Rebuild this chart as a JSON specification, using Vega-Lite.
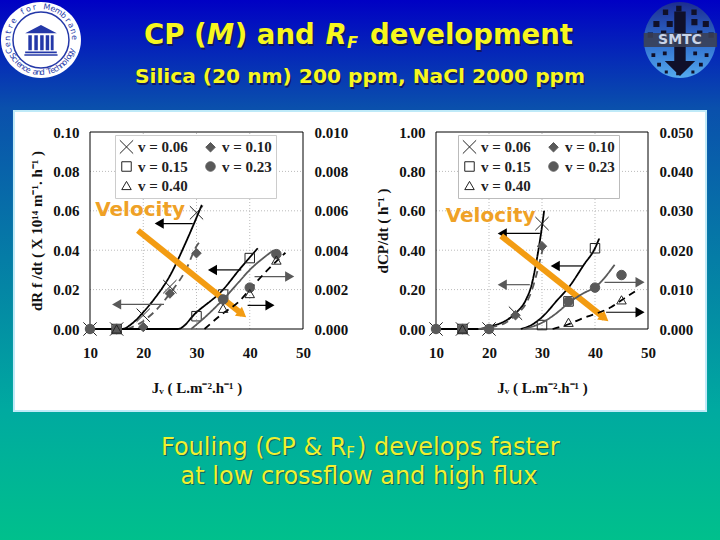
{
  "$schema": "https://vega.github.io/schema/vega-lite/v6.json",
  "width": 720,
  "height": 540,
  "autosize": {"type": "fit", "contains": "padding"},
  "padding": 0,
  "background": "#0a50a8",
  "config": {
    "view": {"stroke": null},
    "axis": {"labelFont": "Liberation Serif", "titleFont": "Liberation Serif", "labelFontWeight": "bold", "titleFontWeight": "bold", "labelFontSize": 15, "titleFontSize": 15, "labelColor": "#111", "titleColor": "#111", "domain": false, "ticks": false, "grid": false, "labelPadding": 11, "labelFlush": false},
    "legend": {"labelFont": "Liberation Serif", "labelFontWeight": "bold", "labelFontSize": 15, "labelColor": "#222"}
  },
  "datasets": {
    "slide": [{"slide": 1}],
    "ring": [
      {"ch": "C", "i": 0}, {"ch": "e", "i": 1}, {"ch": "n", "i": 2}, {"ch": "t", "i": 3}, {"ch": "r", "i": 4}, {"ch": "e", "i": 5}, {"ch": "f", "i": 7}, {"ch": "o", "i": 8}, {"ch": "r", "i": 9}, {"ch": "M", "i": 11}, {"ch": "e", "i": 12}, {"ch": "m", "i": 13}, {"ch": "b", "i": 14}, {"ch": "r", "i": 15}, {"ch": "a", "i": 16}, {"ch": "n", "i": 17}, {"ch": "e", "i": 18},
      {"ch": "S", "i": 19}, {"ch": "c", "i": 20}, {"ch": "i", "i": 21}, {"ch": "e", "i": 22}, {"ch": "n", "i": 23}, {"ch": "c", "i": 24}, {"ch": "e", "i": 25}, {"ch": "a", "i": 27}, {"ch": "n", "i": 28}, {"ch": "d", "i": 29}, {"ch": "T", "i": 31}, {"ch": "e", "i": 32}, {"ch": "c", "i": 33}, {"ch": "h", "i": 34}, {"ch": "n", "i": 35}, {"ch": "o", "i": 36}, {"ch": "l", "i": 37}, {"ch": "o", "i": 38}, {"ch": "g", "i": 39}, {"ch": "y", "i": 40}
    ],
    "gridA": [
      {"x": 20, "x2": 20, "y": 0, "y2": 0.1}, {"x": 30, "x2": 30, "y": 0, "y2": 0.1}, {"x": 40, "x2": 40, "y": 0, "y2": 0.1},
      {"x": 10, "x2": 50, "y": 0.02, "y2": 0.02}, {"x": 10, "x2": 50, "y": 0.04, "y2": 0.04}, {"x": 10, "x2": 50, "y": 0.06, "y2": 0.06}, {"x": 10, "x2": 50, "y": 0.08, "y2": 0.08}
    ],
    "frameA": [{"x": 10, "x2": 50, "y": 0, "y2": 0.1}],
    "gridB": [
      {"x": 20, "x2": 20, "y": 0, "y2": 1}, {"x": 30, "x2": 30, "y": 0, "y2": 1}, {"x": 40, "x2": 40, "y": 0, "y2": 1},
      {"x": 10, "x2": 50, "y": 0.2, "y2": 0.2}, {"x": 10, "x2": 50, "y": 0.4, "y2": 0.4}, {"x": 10, "x2": 50, "y": 0.6, "y2": 0.6}, {"x": 10, "x2": 50, "y": 0.8, "y2": 0.8}
    ],
    "frameB": [{"x": 10, "x2": 50, "y": 0, "y2": 1}],
    "pointsA": [
      {"v": "v = 0.06", "x": 10, "y": 0}, {"v": "v = 0.06", "x": 15, "y": 0}, {"v": "v = 0.06", "x": 20, "y": 0.007}, {"v": "v = 0.06", "x": 25, "y": 0.0215}, {"v": "v = 0.06", "x": 30, "y": 0.059},
      {"v": "v = 0.10", "x": 10, "y": 0}, {"v": "v = 0.10", "x": 15, "y": 0}, {"v": "v = 0.10", "x": 20, "y": 0.001}, {"v": "v = 0.10", "x": 25, "y": 0.018}, {"v": "v = 0.10", "x": 30, "y": 0.0385},
      {"v": "v = 0.15", "x": 15, "y": 0}, {"v": "v = 0.15", "x": 30, "y": 0.0065}, {"v": "v = 0.15", "x": 35, "y": 0.0175}, {"v": "v = 0.15", "x": 40, "y": 0.036}
    ],
    "pointsA2": [
      {"v": "v = 0.23", "x": 10, "y": 0}, {"v": "v = 0.23", "x": 15, "y": 0}, {"v": "v = 0.23", "x": 35, "y": 0.0015}, {"v": "v = 0.23", "x": 40, "y": 0.0021}, {"v": "v = 0.23", "x": 45, "y": 0.0038},
      {"v": "v = 0.40", "x": 15, "y": 0}, {"v": "v = 0.40", "x": 35, "y": 0.00105}, {"v": "v = 0.40", "x": 40, "y": 0.0018}, {"v": "v = 0.40", "x": 45, "y": 0.0035}
    ],
    "linesA": [
      {"v": "v = 0.06", "x": 10, "y": 0}, {"v": "v = 0.06", "x": 16, "y": 0}, {"v": "v = 0.06", "x": 18, "y": 0.003}, {"v": "v = 0.06", "x": 20, "y": 0.0085}, {"v": "v = 0.06", "x": 22, "y": 0.015}, {"v": "v = 0.06", "x": 25, "y": 0.027}, {"v": "v = 0.06", "x": 28, "y": 0.044}, {"v": "v = 0.06", "x": 31, "y": 0.063},
      {"v": "v = 0.10", "x": 17, "y": 0}, {"v": "v = 0.10", "x": 20, "y": 0.004}, {"v": "v = 0.10", "x": 22, "y": 0.0085}, {"v": "v = 0.10", "x": 25, "y": 0.018}, {"v": "v = 0.10", "x": 28, "y": 0.03}, {"v": "v = 0.10", "x": 30, "y": 0.042}, {"v": "v = 0.10", "x": 30.8, "y": 0.045},
      {"v": "v = 0.15", "x": 15, "y": 0}, {"v": "v = 0.15", "x": 26.5, "y": 0}, {"v": "v = 0.15", "x": 30, "y": 0.0085}, {"v": "v = 0.15", "x": 35, "y": 0.02}, {"v": "v = 0.15", "x": 38, "y": 0.03}, {"v": "v = 0.15", "x": 41.5, "y": 0.041}
    ],
    "linesA2": [
      {"v": "v = 0.23", "x": 29, "y": 0}, {"v": "v = 0.23", "x": 32, "y": 0.0007}, {"v": "v = 0.23", "x": 35, "y": 0.0015}, {"v": "v = 0.23", "x": 38, "y": 0.0024}, {"v": "v = 0.23", "x": 40, "y": 0.003}, {"v": "v = 0.23", "x": 43, "y": 0.0037}, {"v": "v = 0.23", "x": 44.5, "y": 0.004},
      {"v": "v = 0.40", "x": 31.5, "y": 0}, {"v": "v = 0.40", "x": 35, "y": 0.0008}, {"v": "v = 0.40", "x": 38, "y": 0.0014}, {"v": "v = 0.40", "x": 40, "y": 0.002}, {"v": "v = 0.40", "x": 43, "y": 0.0029}, {"v": "v = 0.40", "x": 46.7, "y": 0.00387}
    ],
    "arrowsLeftA": [
      {"v": "v = 0.06", "x2": 29.3, "x": 23, "y": 0.0535},
      {"v": "v = 0.10", "x2": 23.9, "x": 15, "y": 0.0125},
      {"v": "v = 0.15", "x2": 38.4, "x": 33, "y": 0.03}
    ],
    "arrowsRightA": [
      {"v": "v = 0.23", "x2": 40.9, "x": 47.5, "y": 0.0266},
      {"v": "v = 0.40", "x2": 39.6, "x": 43.8, "y": 0.012}
    ],
    "velocityA": [{"x2": 19, "y2": 0.05, "x": 38.6, "y": 0.0075}],
    "velocityLabelA": [{"x": 19.4, "y": 0.0605, "label": "Velocity"}],
    "pointsB": [
      {"v": "v = 0.06", "x": 10, "y": 0}, {"v": "v = 0.06", "x": 15, "y": 0}, {"v": "v = 0.06", "x": 20, "y": 0}, {"v": "v = 0.06", "x": 25, "y": 0.08}, {"v": "v = 0.06", "x": 30, "y": 0.535},
      {"v": "v = 0.10", "x": 10, "y": 0}, {"v": "v = 0.10", "x": 15, "y": 0}, {"v": "v = 0.10", "x": 20, "y": 0}, {"v": "v = 0.10", "x": 25, "y": 0.07}, {"v": "v = 0.10", "x": 30, "y": 0.42},
      {"v": "v = 0.15", "x": 15, "y": 0}, {"v": "v = 0.15", "x": 30, "y": 0.02}, {"v": "v = 0.15", "x": 35, "y": 0.14}, {"v": "v = 0.15", "x": 40, "y": 0.41}
    ],
    "pointsB2": [
      {"v": "v = 0.23", "x": 10, "y": 0}, {"v": "v = 0.23", "x": 15, "y": 0}, {"v": "v = 0.23", "x": 20, "y": 0}, {"v": "v = 0.23", "x": 35, "y": 0.007}, {"v": "v = 0.23", "x": 40, "y": 0.0105}, {"v": "v = 0.23", "x": 45, "y": 0.0137},
      {"v": "v = 0.40", "x": 15, "y": 0}, {"v": "v = 0.40", "x": 35, "y": 0.0017}, {"v": "v = 0.40", "x": 45, "y": 0.0074}
    ],
    "linesB": [
      {"v": "v = 0.06", "x": 10, "y": 0}, {"v": "v = 0.06", "x": 18, "y": 0}, {"v": "v = 0.06", "x": 20, "y": 0.012}, {"v": "v = 0.06", "x": 23, "y": 0.04}, {"v": "v = 0.06", "x": 25, "y": 0.08}, {"v": "v = 0.06", "x": 27, "y": 0.15}, {"v": "v = 0.06", "x": 28, "y": 0.22}, {"v": "v = 0.06", "x": 29, "y": 0.35}, {"v": "v = 0.06", "x": 30, "y": 0.52}, {"v": "v = 0.06", "x": 30.4, "y": 0.6},
      {"v": "v = 0.10", "x": 18, "y": 0}, {"v": "v = 0.10", "x": 20, "y": 0.008}, {"v": "v = 0.10", "x": 23, "y": 0.03}, {"v": "v = 0.10", "x": 25, "y": 0.07}, {"v": "v = 0.10", "x": 27, "y": 0.13}, {"v": "v = 0.10", "x": 28, "y": 0.19}, {"v": "v = 0.10", "x": 29, "y": 0.28}, {"v": "v = 0.10", "x": 30, "y": 0.39}, {"v": "v = 0.10", "x": 30.3, "y": 0.42},
      {"v": "v = 0.15", "x": 26, "y": 0}, {"v": "v = 0.15", "x": 28, "y": 0.02}, {"v": "v = 0.15", "x": 30, "y": 0.06}, {"v": "v = 0.15", "x": 33, "y": 0.15}, {"v": "v = 0.15", "x": 35, "y": 0.21}, {"v": "v = 0.15", "x": 38, "y": 0.33}, {"v": "v = 0.15", "x": 40, "y": 0.41}, {"v": "v = 0.15", "x": 40.8, "y": 0.46}
    ],
    "linesB2": [
      {"v": "v = 0.23", "x": 26.5, "y": 0}, {"v": "v = 0.23", "x": 30, "y": 0.0016}, {"v": "v = 0.23", "x": 33, "y": 0.0043}, {"v": "v = 0.23", "x": 35, "y": 0.0066}, {"v": "v = 0.23", "x": 38, "y": 0.0092}, {"v": "v = 0.23", "x": 40, "y": 0.0106}, {"v": "v = 0.23", "x": 43.7, "y": 0.0163},
      {"v": "v = 0.40", "x": 32, "y": 0}, {"v": "v = 0.40", "x": 35, "y": 0.0012}, {"v": "v = 0.40", "x": 38, "y": 0.0029}, {"v": "v = 0.40", "x": 40, "y": 0.0038}, {"v": "v = 0.40", "x": 43, "y": 0.0055}, {"v": "v = 0.40", "x": 45, "y": 0.0073}, {"v": "v = 0.40", "x": 48, "y": 0.0099}
    ],
    "arrowsLeftB": [
      {"v": "v = 0.06", "x2": 29.6, "x": 22.5, "y": 0.485},
      {"v": "v = 0.10", "x2": 27.7, "x": 22.5, "y": 0.225},
      {"v": "v = 0.15", "x2": 37.7, "x": 32.5, "y": 0.32}
    ],
    "arrowsRightB": [
      {"v": "v = 0.23", "x2": 41.8, "x": 48.5, "y": 0.237},
      {"v": "v = 0.40", "x2": 42.1, "x": 48.5, "y": 0.085}
    ],
    "velocityB": [{"x2": 22.3, "y2": 0.473, "x": 41.8, "y": 0.055}],
    "velocityLabelB": [{"x": 20.3, "y": 0.576, "label": "Velocity"}]
  },
  "resolve": {"scale": {"x": "independent", "y": "independent", "color": "independent", "fill": "independent", "stroke": "independent", "shape": "independent", "strokeDash": "independent"}},
  "layer": [
    {
      "data": {"name": "slide"},
      "layer": [
        {"mark": {"type": "rect", "fill": {"gradient": "linear", "x1": 0, "y1": 0, "x2": 0, "y2": 1, "stops": [{"offset": 0, "color": "#0000c4"}, {"offset": 0.2, "color": "#0a50ac"}, {"offset": 0.76, "color": "#00aaa0"}, {"offset": 1, "color": "#00c08c"}]}},
         "encoding": {"x": {"datum": 0, "scale": {"domain": [0, 100], "range": [0, 720]}, "axis": null}, "x2": {"datum": 100}, "y": {"datum": 0, "scale": {"domain": [0, 100], "range": [0, 540]}, "axis": null}, "y2": {"datum": 100}}},
        {"mark": {"type": "rect", "fill": "#ffffff", "stroke": "#bfeaf8", "strokeWidth": 2},
         "encoding": {"x": {"datum": 1.94, "axis": null}, "x2": {"datum": 98.06}, "y": {"datum": 20.56, "axis": null}, "y2": {"datum": 76.11}}},
        {"mark": {"type": "point", "filled": true, "opacity": 1, "color": "#ffffff", "size": 6400, "shape": "M-1,0A1,.95 0 1 1 1,0A1,.95 0 1 1 -1,0Z"},
         "encoding": {"x": {"datum": 5.69, "axis": null}, "y": {"datum": 7.41, "axis": null}}},
        {"mark": {"type": "point", "filled": false, "opacity": 1, "color": "#2438a8", "strokeWidth": 1.5, "size": 3136, "shape": "M-1,0A1,1 0 1 1 1,0A1,1 0 1 1 -1,0Z"},
         "encoding": {"x": {"datum": 5.69, "axis": null}, "y": {"datum": 7.41, "axis": null}}},
        {"mark": {"type": "point", "filled": true, "opacity": 1, "color": "#2438a8", "size": 1000, "shape": "M-1,-.42L0,-.95L1,-.42ZM-.8,-.3h.22v.95h-.22zM-.42,-.3h.22v.95h-.22zM-.05,-.3h.22v.95h-.22zM.3,-.3h.22v.95h-.22zM.62,-.3h.18v.95h-.18zM-1,.72h2v.12h-2zM-1.05,.9h2.1v.1h-2.1z"},
         "encoding": {"x": {"datum": 5.69, "axis": null}, "y": {"datum": 7.41, "axis": null}}},
        {"data": {"name": "ring"},
         "mark": {"type": "text", "font": "DejaVu Sans", "fontSize": 8, "color": "#2438a8", "radius": 33},
         "encoding": {
           "x": {"datum": 5.69, "axis": null}, "y": {"datum": 7.41, "axis": null},
           "theta": {"field": "i", "type": "quantitative", "scale": {"domain": [0, 18, 19, 40], "range": [-1.9, 1.5, 4.2, 1.9]}},
           "angle": {"field": "i", "type": "quantitative", "scale": {"domain": [0, 18, 19, 40], "range": [-109, 86, 60, -71]}, "legend": null},
           "text": {"field": "ch"}
         }},
        {"mark": {"type": "point", "filled": true, "opacity": 1, "size": 5776, "shape": "M-.95,0A.95,1 0 1 1 .95,0A.95,1 0 1 1 -.95,0Z", "color": {"gradient": "linear", "x1": 0, "y1": 0, "x2": 0, "y2": 1, "stops": [{"offset": 0, "color": "#1c2c90"}, {"offset": 0.55, "color": "#3070d0"}, {"offset": 1, "color": "#55aaee"}]}},
         "encoding": {"x": {"datum": 94.44, "axis": null}, "y": {"datum": 7.41, "axis": null}}},
        {"mark": {"type": "point", "filled": true, "opacity": 1, "size": 5776, "color": "#10102a", "shape": "M-.45,-.8h.14v.14h-.14zM-.1,-.9h.14v.14h-.14zM.3,-.8h.14v.14h-.14zM-.7,-.5h.16v.16h-.16zM-.35,-.5h.16v.16h-.16zM.3,-.55h.16v.16h-.16zM.6,-.5h.16v.16h-.16zM-.85,-.2h.14v.14h-.14zM-.5,-.25h.14v.14h-.14zM.45,-.25h.14v.14h-.14zM.75,-.2h.14v.14h-.14zM-.75,.35h.1v.1h-.1zM-.45,.3h.1v.1h-.1zM.35,.3h.1v.1h-.1zM.65,.35h.1v.1h-.1zM-.6,.6h.1v.1h-.1zM-.3,.55h.1v.1h-.1zM.2,.55h.1v.1h-.1zM.5,.6h.1v.1h-.1zM-.4,.8h.08v.08h-.08zM-.1,.85h.08v.08h-.08zM.3,.8h.08v.08h-.08zM-.15,-.75h.3v1.3h.25L0,.95L-.4,.55h.25z"},
         "encoding": {"x": {"datum": 94.44, "axis": null}, "y": {"datum": 7.41, "axis": null}}},
        {"mark": {"type": "rect", "fill": "#3a3f55", "opacity": 0.9},
         "encoding": {"x": {"datum": 89.4, "axis": null}, "x2": {"datum": 99.6}, "y": {"datum": 6.1, "axis": null}, "y2": {"datum": 8.7}}},
        {"mark": {"type": "text", "font": "DejaVu Sans", "fontSize": 14, "fontWeight": "bold", "color": "#c9d4e8", "align": "center"},
         "encoding": {"x": {"datum": 94.44, "axis": null}, "y": {"datum": 7.41, "axis": null}, "text": {"datum": "SMTC"}}},
        {"mark": {"type": "text", "font": "DejaVu Sans", "fontSize": 27.5, "fontWeight": "bold", "color": "#101860", "align": "left", "dx": 1.5, "dy": 1.5},
         "encoding": {"x": {"datum": 20, "axis": null}, "y": {"datum": 6.67, "axis": null}, "text": {"datum": "CP ("}}},
        {"mark": {"type": "text", "font": "DejaVu Sans", "fontSize": 27.5, "fontWeight": "bold", "color": "#f7f71e", "align": "left"},
         "encoding": {"x": {"datum": 20, "axis": null}, "y": {"datum": 6.67, "axis": null}, "text": {"datum": "CP ("}}},
        {"mark": {"type": "text", "font": "DejaVu Sans", "fontSize": 27.5, "fontWeight": "bold", "fontStyle": "italic", "color": "#101860", "align": "left", "dx": 1.5, "dy": 1.5},
         "encoding": {"x": {"datum": 28.7, "axis": null}, "y": {"datum": 6.67, "axis": null}, "text": {"datum": "M"}}},
        {"mark": {"type": "text", "font": "DejaVu Sans", "fontSize": 27.5, "fontWeight": "bold", "fontStyle": "italic", "color": "#f7f71e", "align": "left"},
         "encoding": {"x": {"datum": 28.7, "axis": null}, "y": {"datum": 6.67, "axis": null}, "text": {"datum": "M"}}},
        {"mark": {"type": "text", "font": "DejaVu Sans", "fontSize": 27.5, "fontWeight": "bold", "color": "#101860", "align": "left", "dx": 1.5, "dy": 1.5},
         "encoding": {"x": {"datum": 32.6, "axis": null}, "y": {"datum": 6.67, "axis": null}, "text": {"datum": ") and"}}},
        {"mark": {"type": "text", "font": "DejaVu Sans", "fontSize": 27.5, "fontWeight": "bold", "color": "#f7f71e", "align": "left"},
         "encoding": {"x": {"datum": 32.6, "axis": null}, "y": {"datum": 6.67, "axis": null}, "text": {"datum": ") and"}}},
        {"mark": {"type": "text", "font": "DejaVu Sans", "fontSize": 27.5, "fontWeight": "bold", "fontStyle": "italic", "color": "#101860", "align": "left", "dx": 1.5, "dy": 1.5},
         "encoding": {"x": {"datum": 45.2, "axis": null}, "y": {"datum": 6.67, "axis": null}, "text": {"datum": "R"}}},
        {"mark": {"type": "text", "font": "DejaVu Sans", "fontSize": 27.5, "fontWeight": "bold", "fontStyle": "italic", "color": "#f7f71e", "align": "left"},
         "encoding": {"x": {"datum": 45.2, "axis": null}, "y": {"datum": 6.67, "axis": null}, "text": {"datum": "R"}}},
        {"mark": {"type": "text", "font": "DejaVu Sans", "fontSize": 16, "fontWeight": "bold", "fontStyle": "italic", "color": "#f7f71e", "align": "left"},
         "encoding": {"x": {"datum": 48.2, "axis": null}, "y": {"datum": 8, "axis": null}, "text": {"datum": "F"}}},
        {"mark": {"type": "text", "font": "DejaVu Sans", "fontSize": 27.5, "fontWeight": "bold", "color": "#101860", "align": "left", "dx": 1.5, "dy": 1.5},
         "encoding": {"x": {"datum": 51.39, "axis": null}, "y": {"datum": 6.67, "axis": null}, "text": {"datum": "development"}}},
        {"mark": {"type": "text", "font": "DejaVu Sans", "fontSize": 27.5, "fontWeight": "bold", "color": "#f7f71e", "align": "left"},
         "encoding": {"x": {"datum": 51.39, "axis": null}, "y": {"datum": 6.67, "axis": null}, "text": {"datum": "development"}}},
        {"mark": {"type": "text", "font": "DejaVu Sans", "fontSize": 20.2, "fontWeight": "bold", "color": "#101860", "align": "center", "dx": 1.2, "dy": 1.2},
         "encoding": {"x": {"datum": 50, "axis": null}, "y": {"datum": 14.35, "axis": null}, "text": {"datum": "Silica (20 nm) 200 ppm, NaCl 2000 ppm"}}},
        {"mark": {"type": "text", "font": "DejaVu Sans", "fontSize": 20.2, "fontWeight": "bold", "color": "#f7f71e", "align": "center"},
         "encoding": {"x": {"datum": 50, "axis": null}, "y": {"datum": 14.35, "axis": null}, "text": {"datum": "Silica (20 nm) 200 ppm, NaCl 2000 ppm"}}},
        {"mark": {"type": "text", "font": "DejaVu Sans", "fontSize": 24, "color": "#0a6a60", "align": "left", "dx": 1.2, "dy": 1.2},
         "encoding": {"x": {"datum": 22.36, "axis": null}, "y": {"datum": 82.96, "axis": null}, "text": {"datum": "Fouling (CP & R"}}},
        {"mark": {"type": "text", "font": "DejaVu Sans", "fontSize": 24, "color": "#f0f030", "align": "left"},
         "encoding": {"x": {"datum": 22.36, "axis": null}, "y": {"datum": 82.96, "axis": null}, "text": {"datum": "Fouling (CP & R"}}},
        {"mark": {"type": "text", "font": "DejaVu Sans", "fontSize": 15, "color": "#f0f030", "align": "left"},
         "encoding": {"x": {"datum": 48.1, "axis": null}, "y": {"datum": 83.9, "axis": null}, "text": {"datum": "F"}}},
        {"mark": {"type": "text", "font": "DejaVu Sans", "fontSize": 24, "color": "#0a6a60", "align": "left", "dx": 1.2, "dy": 1.2},
         "encoding": {"x": {"datum": 49.6, "axis": null}, "y": {"datum": 82.96, "axis": null}, "text": {"datum": ") develops faster"}}},
        {"mark": {"type": "text", "font": "DejaVu Sans", "fontSize": 24, "color": "#f0f030", "align": "left"},
         "encoding": {"x": {"datum": 49.6, "axis": null}, "y": {"datum": 82.96, "axis": null}, "text": {"datum": ") develops faster"}}},
        {"mark": {"type": "text", "font": "DejaVu Sans", "fontSize": 24, "color": "#0a6a60", "align": "center", "dx": 1.2, "dy": 1.2},
         "encoding": {"x": {"datum": 49.86, "axis": null}, "y": {"datum": 88.33, "axis": null}, "text": {"datum": "at low crossflow and high flux"}}},
        {"mark": {"type": "text", "font": "DejaVu Sans", "fontSize": 24, "color": "#f0f030", "align": "center"},
         "encoding": {"x": {"datum": 49.86, "axis": null}, "y": {"datum": 88.33, "axis": null}, "text": {"datum": "at low crossflow and high flux"}}}
      ]
    },
    {
      "encoding": {
        "x": {"field": "x", "type": "quantitative", "scale": {"domain": [10, 50], "range": [90, 303], "nice": false}, "axis": {"zindex": 1, "orient": "bottom", "offset": -211, "values": [10, 20, 30, 40, 50], "format": "d", "title": "Jᵥ ( L.m⁻².h⁻¹ )", "labelPadding": 16, "titlePadding": 20}}
      },
      "resolve": {"scale": {"y": "independent"}},
      "layer": [
        {
          "encoding": {
            "y": {"field": "y", "type": "quantitative", "scale": {"domain": [0, 0.1], "range": [329, 132], "nice": false}, "axis": {"zindex": 1, "orient": "left", "offset": -90, "values": [0, 0.02, 0.04, 0.06, 0.08, 0.1], "format": ".2f", "title": "dR f /dt ( X 10¹⁴  m⁻¹. h⁻¹ )", "titlePadding": 8}}
          },
          "layer": [
            {"data": {"name": "gridA"}, "mark": {"type": "rule", "color": "#bbbbbb", "strokeDash": [1, 2], "strokeWidth": 1}, "encoding": {"x2": {"field": "x2"}, "y2": {"field": "y2"}}},
            {"data": {"name": "frameA"}, "mark": {"type": "rect", "fill": null, "stroke": "#000000", "strokeWidth": 1}, "encoding": {"x2": {"field": "x2"}, "y2": {"field": "y2"}}},
            {"data": {"name": "linesA"}, "mark": {"type": "line", "interpolate": "monotone", "strokeWidth": 1.8},
             "encoding": {
               "color": {"field": "v", "scale": {"domain": ["v = 0.40", "v = 0.23", "v = 0.15", "v = 0.10", "v = 0.06"], "range": ["#000000", "#595959", "#000000", "#595959", "#000000"]}, "legend": null},
               "strokeDash": {"field": "v", "scale": {"domain": ["v = 0.40", "v = 0.23", "v = 0.15", "v = 0.10", "v = 0.06"], "range": [[7, 5], [1, 0], [1, 0], [7, 5], [1, 0]]}, "legend": null}
             }},
            {"data": {"name": "pointsA"}, "mark": {"type": "point", "filled": true, "opacity": 1, "size": 90, "strokeWidth": 1},
             "encoding": {
               "shape": {"field": "v", "title": null, "scale": {"domain": ["v = 0.06", "v = 0.10", "v = 0.15", "v = 0.23", "v = 0.40"], "range": ["M-1.4,-1.4L1.4,1.4M-1.4,1.4L1.4,-1.4", "diamond", "square", "circle", "triangle-up"]}, "legend": {"zindex": 1, "orient": "none", "legendX": 115, "legendY": 135, "columns": 2, "values": ["v = 0.06", "v = 0.15", "v = 0.40", "v = 0.10", "v = 0.23"], "fillColor": "#ffffff", "strokeColor": "#cccccc", "padding": 4, "columnPadding": 15, "rowPadding": 3, "symbolSize": 90, "symbolStrokeWidth": 1}},
               "fill": {"field": "v", "title": null, "scale": {"domain": ["v = 0.06", "v = 0.10", "v = 0.15", "v = 0.23", "v = 0.40"], "range": ["transparent", "#595959", "transparent", "#595959", "transparent"]}},
               "stroke": {"field": "v", "title": null, "scale": {"domain": ["v = 0.06", "v = 0.10", "v = 0.15", "v = 0.23", "v = 0.40"], "range": ["#222222", "#595959", "#222222", "#595959", "#222222"]}}
             }},
            {"data": {"name": "arrowsLeftA"}, "mark": {"type": "rule", "strokeWidth": 1.2}, "encoding": {"x2": {"field": "x2"}, "color": {"field": "v", "legend": null}}},
            {"data": {"name": "arrowsLeftA"}, "mark": {"type": "point", "filled": true, "opacity": 1, "shape": "triangle-left", "size": 110}, "encoding": {"color": {"field": "v", "legend": null}}},
            {"data": {"name": "arrowsRightA"}, "mark": {"type": "rule", "strokeWidth": 1.2}, "encoding": {"x2": {"field": "x2"}, "color": {"field": "v", "legend": null}}},
            {"data": {"name": "arrowsRightA"}, "mark": {"type": "point", "filled": true, "opacity": 1, "shape": "triangle-right", "size": 110}, "encoding": {"color": {"field": "v", "legend": null}}},
            {"data": {"name": "velocityA"}, "mark": {"type": "rule", "color": "#f39c12", "strokeWidth": 6}, "encoding": {"x2": {"field": "x2"}, "y2": {"field": "y2"}}},
            {"data": {"name": "velocityA"}, "mark": {"type": "point", "filled": true, "opacity": 1, "color": "#f39c12", "shape": "triangle-up", "size": 130, "angle": 128}},
            {"data": {"name": "velocityLabelA"}, "mark": {"type": "text", "font": "DejaVu Sans", "fontSize": 20, "fontWeight": "bold", "color": "#efa126"}, "encoding": {"text": {"field": "label"}}}
          ]
        },
        {
          "encoding": {
            "y": {"field": "y", "type": "quantitative", "scale": {"domain": [0, 0.01], "range": [329, 132], "nice": false}, "axis": {"zindex": 1, "orient": "right", "offset": -417, "values": [0, 0.002, 0.004, 0.006, 0.008, 0.01], "format": ".3f", "title": null}}
          },
          "layer": [
            {"data": {"name": "linesA2"}, "mark": {"type": "line", "interpolate": "monotone", "strokeWidth": 1.8},
             "encoding": {
               "color": {"field": "v", "scale": {"domain": ["v = 0.40", "v = 0.23", "v = 0.15", "v = 0.10", "v = 0.06"], "range": ["#000000", "#595959", "#000000", "#595959", "#000000"]}, "legend": null},
               "strokeDash": {"field": "v", "scale": {"domain": ["v = 0.40", "v = 0.23", "v = 0.15", "v = 0.10", "v = 0.06"], "range": [[7, 5], [1, 0], [1, 0], [7, 5], [1, 0]]}, "legend": null}
             }},
            {"data": {"name": "pointsA2"}, "mark": {"type": "point", "filled": true, "opacity": 1, "size": 90, "strokeWidth": 1},
             "encoding": {
               "shape": {"field": "v", "title": null, "scale": {"domain": ["v = 0.06", "v = 0.10", "v = 0.15", "v = 0.23", "v = 0.40"], "range": ["M-1.4,-1.4L1.4,1.4M-1.4,1.4L1.4,-1.4", "diamond", "square", "circle", "triangle-up"]}, "legend": null},
               "fill": {"field": "v", "title": null, "scale": {"domain": ["v = 0.06", "v = 0.10", "v = 0.15", "v = 0.23", "v = 0.40"], "range": ["transparent", "#595959", "transparent", "#595959", "transparent"]}, "legend": null},
               "stroke": {"field": "v", "title": null, "scale": {"domain": ["v = 0.06", "v = 0.10", "v = 0.15", "v = 0.23", "v = 0.40"], "range": ["#222222", "#595959", "#222222", "#595959", "#222222"]}, "legend": null}
             }}
          ]
        }
      ]
    },
    {
      "encoding": {
        "x": {"field": "x", "type": "quantitative", "scale": {"domain": [10, 50], "range": [436, 648], "nice": false}, "axis": {"zindex": 1, "orient": "bottom", "offset": -211, "values": [10, 20, 30, 40, 50], "format": "d", "title": "Jᵥ ( L.m⁻².h⁻¹ )", "labelPadding": 16, "titlePadding": 20}}
      },
      "resolve": {"scale": {"y": "independent"}},
      "layer": [
        {
          "encoding": {
            "y": {"field": "y", "type": "quantitative", "scale": {"domain": [0, 1], "range": [329, 132], "nice": false}, "axis": {"zindex": 1, "orient": "left", "offset": -436, "values": [0, 0.2, 0.4, 0.6, 0.8, 1], "format": ".2f", "title": "dCP/dt ( h⁻¹ )", "titlePadding": 8}}
          },
          "layer": [
            {"data": {"name": "gridB"}, "mark": {"type": "rule", "color": "#bbbbbb", "strokeDash": [1, 2], "strokeWidth": 1}, "encoding": {"x2": {"field": "x2"}, "y2": {"field": "y2"}}},
            {"data": {"name": "frameB"}, "mark": {"type": "rect", "fill": null, "stroke": "#000000", "strokeWidth": 1}, "encoding": {"x2": {"field": "x2"}, "y2": {"field": "y2"}}},
            {"data": {"name": "linesB"}, "mark": {"type": "line", "interpolate": "monotone", "strokeWidth": 1.8},
             "encoding": {
               "color": {"field": "v", "scale": {"domain": ["v = 0.40", "v = 0.23", "v = 0.15", "v = 0.10", "v = 0.06"], "range": ["#000000", "#595959", "#000000", "#595959", "#000000"]}, "legend": null},
               "strokeDash": {"field": "v", "scale": {"domain": ["v = 0.40", "v = 0.23", "v = 0.15", "v = 0.10", "v = 0.06"], "range": [[7, 5], [1, 0], [1, 0], [7, 5], [1, 0]]}, "legend": null}
             }},
            {"data": {"name": "pointsB"}, "mark": {"type": "point", "filled": true, "opacity": 1, "size": 90, "strokeWidth": 1},
             "encoding": {
               "shape": {"field": "v", "title": null, "scale": {"domain": ["v = 0.06", "v = 0.10", "v = 0.15", "v = 0.23", "v = 0.40"], "range": ["M-1.4,-1.4L1.4,1.4M-1.4,1.4L1.4,-1.4", "diamond", "square", "circle", "triangle-up"]}, "legend": {"zindex": 1, "orient": "none", "legendX": 458, "legendY": 135, "columns": 2, "values": ["v = 0.06", "v = 0.15", "v = 0.40", "v = 0.10", "v = 0.23"], "fillColor": "#ffffff", "strokeColor": "#bbbbbb", "padding": 4, "columnPadding": 15, "rowPadding": 3, "symbolSize": 90, "symbolStrokeWidth": 1}},
               "fill": {"field": "v", "title": null, "scale": {"domain": ["v = 0.06", "v = 0.10", "v = 0.15", "v = 0.23", "v = 0.40"], "range": ["transparent", "#595959", "transparent", "#595959", "transparent"]}},
               "stroke": {"field": "v", "title": null, "scale": {"domain": ["v = 0.06", "v = 0.10", "v = 0.15", "v = 0.23", "v = 0.40"], "range": ["#222222", "#595959", "#222222", "#595959", "#222222"]}}
             }},
            {"data": {"name": "arrowsLeftB"}, "mark": {"type": "rule", "strokeWidth": 1.2}, "encoding": {"x2": {"field": "x2"}, "color": {"field": "v", "legend": null}}},
            {"data": {"name": "arrowsLeftB"}, "mark": {"type": "point", "filled": true, "opacity": 1, "shape": "triangle-left", "size": 110}, "encoding": {"color": {"field": "v", "legend": null}}},
            {"data": {"name": "arrowsRightB"}, "mark": {"type": "rule", "strokeWidth": 1.2}, "encoding": {"x2": {"field": "x2"}, "color": {"field": "v", "legend": null}}},
            {"data": {"name": "arrowsRightB"}, "mark": {"type": "point", "filled": true, "opacity": 1, "shape": "triangle-right", "size": 110}, "encoding": {"color": {"field": "v", "legend": null}}},
            {"data": {"name": "velocityB"}, "mark": {"type": "rule", "color": "#f39c12", "strokeWidth": 6}, "encoding": {"x2": {"field": "x2"}, "y2": {"field": "y2"}}},
            {"data": {"name": "velocityB"}, "mark": {"type": "point", "filled": true, "opacity": 1, "color": "#f39c12", "shape": "triangle-up", "size": 130, "angle": 128}},
            {"data": {"name": "velocityLabelB"}, "mark": {"type": "text", "font": "DejaVu Sans", "fontSize": 20, "fontWeight": "bold", "color": "#efa126"}, "encoding": {"text": {"field": "label"}}}
          ]
        },
        {
          "encoding": {
            "y": {"field": "y", "type": "quantitative", "scale": {"domain": [0, 0.05], "range": [329, 132], "nice": false}, "axis": {"zindex": 1, "orient": "right", "offset": -72, "values": [0, 0.01, 0.02, 0.03, 0.04, 0.05], "format": ".3f", "title": null}}
          },
          "layer": [
            {"data": {"name": "linesB2"}, "mark": {"type": "line", "interpolate": "monotone", "strokeWidth": 1.8},
             "encoding": {
               "color": {"field": "v", "scale": {"domain": ["v = 0.40", "v = 0.23", "v = 0.15", "v = 0.10", "v = 0.06"], "range": ["#000000", "#595959", "#000000", "#595959", "#000000"]}, "legend": null},
               "strokeDash": {"field": "v", "scale": {"domain": ["v = 0.40", "v = 0.23", "v = 0.15", "v = 0.10", "v = 0.06"], "range": [[7, 5], [1, 0], [1, 0], [7, 5], [1, 0]]}, "legend": null}
             }},
            {"data": {"name": "pointsB2"}, "mark": {"type": "point", "filled": true, "opacity": 1, "size": 90, "strokeWidth": 1},
             "encoding": {
               "shape": {"field": "v", "title": null, "scale": {"domain": ["v = 0.06", "v = 0.10", "v = 0.15", "v = 0.23", "v = 0.40"], "range": ["M-1.4,-1.4L1.4,1.4M-1.4,1.4L1.4,-1.4", "diamond", "square", "circle", "triangle-up"]}, "legend": null},
               "fill": {"field": "v", "title": null, "scale": {"domain": ["v = 0.06", "v = 0.10", "v = 0.15", "v = 0.23", "v = 0.40"], "range": ["transparent", "#595959", "transparent", "#595959", "transparent"]}, "legend": null},
               "stroke": {"field": "v", "title": null, "scale": {"domain": ["v = 0.06", "v = 0.10", "v = 0.15", "v = 0.23", "v = 0.40"], "range": ["#222222", "#595959", "#222222", "#595959", "#222222"]}, "legend": null}
             }}
          ]
        }
      ]
    }
  ]
}
